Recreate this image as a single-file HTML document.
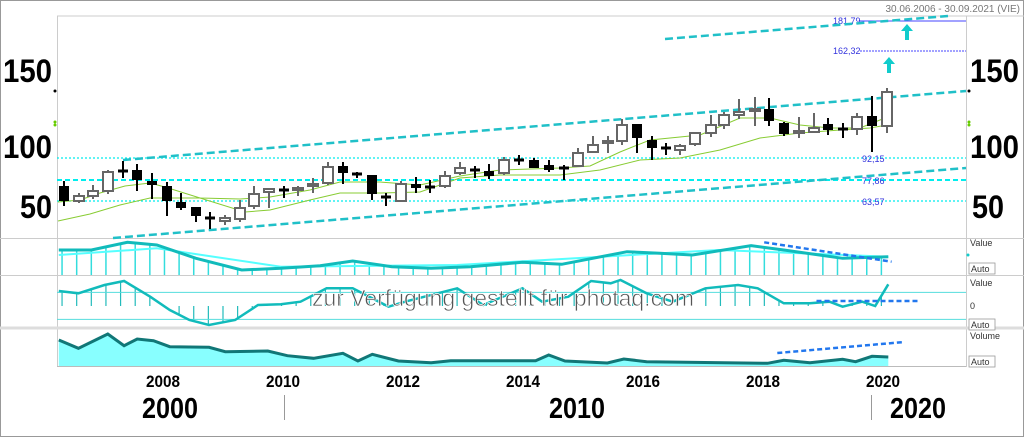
<!DOCTYPE html><html><head><meta charset="utf-8"><style>
body{margin:0;width:1024px;height:437px;background:#fff;overflow:hidden;font-family:"Liberation Sans",sans-serif}
svg{position:absolute;left:0;top:0}
</style></head><body>
<svg width="1024" height="437" id="s">
<rect x="0.5" y="0.5" width="1023" height="436" fill="none" stroke="#999"/>
<line x1="57" y1="16" x2="1024" y2="16" stroke="#ccc"/>
<line x1="57.5" y1="16" x2="57.5" y2="367" stroke="#ccc"/>
<line x1="966.5" y1="16" x2="966.5" y2="367" stroke="#ccc"/>
<line x1="0" y1="238.5" x2="1024" y2="238.5" stroke="#ccc"/>
<line x1="0" y1="275.5" x2="1024" y2="275.5" stroke="#ccc"/>
<line x1="0" y1="328" x2="1024" y2="328" stroke="#ddd" stroke-width="3"/>
<line x1="57" y1="366.5" x2="966" y2="366.5" stroke="#bbb"/>
<text x="1020" y="12" font-size="10" fill="#777" text-anchor="end">30.06.2006 - 30.09.2021 (VIE)</text>
<g font-weight="bold" font-size="32" fill="#000" lengthAdjust="spacingAndGlyphs">
<text x="3" y="82" textLength="49" lengthAdjust="spacingAndGlyphs">150</text><text x="3" y="158" textLength="49" lengthAdjust="spacingAndGlyphs">100</text><text x="20" y="218" textLength="32" lengthAdjust="spacingAndGlyphs">50</text>
<text x="970" y="82" textLength="49" lengthAdjust="spacingAndGlyphs">150</text><text x="970" y="158" textLength="49" lengthAdjust="spacingAndGlyphs">100</text><text x="972" y="218" textLength="32" lengthAdjust="spacingAndGlyphs">50</text>
</g>
<circle cx="55" cy="91" r="1.5"/><circle cx="969" cy="91" r="1.5"/>
<circle cx="55" cy="122" r="1.5" fill="#6c0"/><circle cx="55" cy="125" r="1.5" fill="#6c0"/>
<circle cx="969" cy="122" r="1.5" fill="#6c0"/><circle cx="969" cy="125" r="1.5" fill="#6c0"/>
<g stroke="#0ee" stroke-width="1.3" stroke-dasharray="2 2">
<line x1="57" y1="158" x2="966" y2="158"/><line x1="57" y1="201" x2="966" y2="201"/>
</g>
<line x1="57" y1="180" x2="966" y2="180" stroke="#0ee" stroke-width="2" stroke-dasharray="5 3"/>
<line x1="860" y1="21" x2="966" y2="21" stroke="#44f"/>
<line x1="860" y1="51" x2="966" y2="51" stroke="#44f" stroke-dasharray="2 1"/>
<g font-size="9" fill="#33d">
<text x="833" y="24">181,79</text><text x="833" y="54">162,32</text>
<text x="862" y="162">92,15</text><text x="862" y="184">77,86</text><text x="862" y="205">63,57</text>
</g>
<g stroke="#20c0c8" stroke-width="2.5" stroke-dasharray="8 4">
<line x1="123" y1="160" x2="966" y2="91"/>
<line x1="113" y1="238" x2="966" y2="168"/>
<line x1="665" y1="39" x2="948" y2="16"/>
</g>
<g fill="#1cc">
<path d="M905,40v-9h-4l6,-7l6,7h-4v9z"/>
<path d="M887,73v-9h-4l6,-7l6,7h-4v9z"/>
</g>
<g id="ma" fill="none" stroke="#8c3" stroke-width="1"></g>
<g id="c"></g>
<g id="p" fill="none"></g>
<g font-size="9" fill="#333">
<text x="970" y="246">Value</text><text x="970" y="286">Value</text><text x="970" y="309">0</text><text x="970" y="339">Volume</text>
</g>
<g font-size="9" fill="#333" stroke="#999" stroke-width="0.8">
<rect x="969" y="263" width="26" height="11" fill="#fff"/><rect x="969" y="319" width="26" height="11" fill="#fff"/><rect x="969" y="356" width="26" height="11" fill="#fff"/>
</g>
<g font-size="9" fill="#333"><text x="971" y="272">Auto</text><text x="971" y="328">Auto</text><text x="971" y="365">Auto</text></g>
<circle cx="968" cy="255" r="1.5" fill="#1cc"/>
<text x="312" y="306" font-size="23" fill="#555" stroke="#fff" stroke-width="0.7" textLength="382" lengthAdjust="spacingAndGlyphs">zur Verfügung gestellt für photaq.com</text>
<g font-weight="bold" font-size="17" text-anchor="middle">
<text x="163" y="387" textLength="34" lengthAdjust="spacingAndGlyphs">2008</text><text x="283" y="387" textLength="34" lengthAdjust="spacingAndGlyphs">2010</text><text x="403" y="387" textLength="34" lengthAdjust="spacingAndGlyphs">2012</text><text x="523" y="387" textLength="34" lengthAdjust="spacingAndGlyphs">2014</text><text x="643" y="387" textLength="34" lengthAdjust="spacingAndGlyphs">2016</text><text x="763" y="387" textLength="34" lengthAdjust="spacingAndGlyphs">2018</text><text x="883" y="387" textLength="34" lengthAdjust="spacingAndGlyphs">2020</text>
</g>
<g font-weight="bold" font-size="29" text-anchor="middle">
<text x="170" y="418" textLength="56" lengthAdjust="spacingAndGlyphs">2000</text><text x="577" y="418" textLength="56" lengthAdjust="spacingAndGlyphs">2010</text><text x="918" y="418" textLength="56" lengthAdjust="spacingAndGlyphs">2020</text>
</g>
<line x1="284.5" y1="395" x2="284.5" y2="420" stroke="#999"/>
<line x1="871.5" y1="395" x2="871.5" y2="420" stroke="#999"/>
</svg>
<script>
var NS="http://www.w3.org/2000/svg";
function el(p,t,a){var e=document.createElementNS(NS,t);for(var k in a)e.setAttribute(k,a[k]);p.appendChild(e);return e;}
var c=document.getElementById('c');
var C=[[64,186,201,181,206,'b'],[79,196,201,193,203,'g'],[93,191,196,185,199,'g'],[108,172,191,170,194,'h'],[123,170,172,161,178,'x'],[137,170,180,164,191,'b'],[152,181,185,173,199,'b'],[167,186,201,182,216,'b'],[181,202,208,193,210,'b'],[196,207,216,207,222,'b'],[210,217,219,212,229,'x'],[225,218,221,215,225,'g'],[240,208,219,200,222,'h'],[254,194,206,186,209,'h'],[269,189,192,189,208,'g'],[284,189,191,186,198,'x'],[298,188,190,186,196,'g'],[313,184,186,178,193,'g'],[328,167,183,162,185,'h'],[343,166,173,162,184,'b'],[357,173,175,172,178,'x'],[372,175,194,175,200,'b'],[386,196,198,193,206,'x'],[401,184,201,181,201,'h'],[416,184,188,177,193,'b'],[430,186,188,180,193,'x'],[445,176,186,171,188,'h'],[460,168,173,162,175,'g'],[475,169,171,166,178,'x'],[489,171,176,164,179,'b'],[504,160,173,157,175,'h'],[519,159,161,155,165,'x'],[534,160,168,158,168,'b'],[549,165,170,160,172,'b'],[564,167,169,165,180,'x'],[578,153,166,148,167,'h'],[593,145,152,136,153,'h'],[608,141,143,136,153,'g'],[622,125,141,119,145,'h'],[637,124,138,124,153,'b'],[652,140,148,136,160,'b'],[666,147,149,143,155,'x'],[680,146,150,144,155,'g'],[695,133,144,132,146,'h'],[711,125,133,115,137,'h'],[724,115,125,112,129,'h'],[739,112,115,99,119,'g'],[755,109,111,97,126,'g'],[769,109,121,98,126,'b'],[784,123,134,122,136,'b'],[799,131,133,117,138,'g'],[814,128,132,113,133,'g'],[828,124,130,118,135,'b'],[843,128,130,123,138,'x'],[857,117,129,113,135,'h'],[872,116,126,96,152,'b'],[887,92,126,88,133,'h']];
C.forEach(function(d){var x=d[0],t=d[5];var col=(t=='g'||t=='h')?'#666':'#000';
el(c,'line',{x1:x,y1:d[3],x2:x,y2:d[4],stroke:col,'stroke-width':2});
if(t=='x'){el(c,'line',{x1:x-5,y1:(d[1]+d[2])/2,x2:x+5,y2:(d[1]+d[2])/2,stroke:'#000','stroke-width':3});}
else el(c,'rect',{x:x-5,y:d[1],width:10,height:Math.max(2,d[2]-d[1]),fill:t=='b'?'#000':'#fff',stroke:col,'stroke-width':t=='b'?0:2});});
var ma=document.getElementById('ma');
el(ma,'polyline',{points:"58,202 80,200 100,193 125,186 150,183 165,187 200,198 240,199 270,197 310,190 340,182 380,182 420,185 460,176 500,170 560,168 590,166 620,152 650,140 700,135 740,118 770,118 800,125 830,128 860,128 885,118"});
el(ma,'polyline',{points:"58,221 90,214 120,205 150,198 200,198 245,212 270,210 310,200 340,193 380,193 420,192 460,178 500,175 560,175 600,170 640,160 680,158 720,150 760,138 800,133 840,130 870,128 887,125"});
var p=document.getElementById('p');
function tr(pts){return pts.map(function(q){return (q[0]/1.531).toFixed(1)+','+(235+q[1]/3).toFixed(1)});}
function interp(pts,x){for(var i=1;i<pts.length;i++){if(pts[i][0]>=x){var a=pts[i-1],b=pts[i];return a[1]+(b[1]-a[1])*(x-a[0])/(b[0]-a[0]);}}return pts[pts.length-1][1];}
var L2=[[90,45],[140,45],[195,22],[240,30],[300,70],[370,105],[430,100],[490,92],[540,78],[600,95],[660,100],[720,95],[800,82],[860,88],[960,50],[1010,55],[1060,60],[1150,32],[1200,45],[1290,70],[1360,65]];
var L2b=[[90,60],[240,40],[430,95],[700,90],[1100,45],[1360,65]];
var L3=[[90,168],[120,175],[160,150],[190,138],[230,185],[260,225],[290,255],[320,270],[360,255],[395,210],[430,208],[460,200],[500,160],[540,160],[595,215],[620,200],[700,160],[740,210],[800,160],[830,200],[870,185],[905,138],[935,145],[950,135],[990,175],[1030,200],[1080,160],[1130,150],[1160,160],[1200,205],[1240,205],[1270,200],[1290,215],[1320,200],[1340,213],[1360,148]];
var V=[[90,315],[120,340],[165,297],[190,332],[210,312],[235,317],[260,335],[320,337],[345,350],[410,348],[440,362],[480,370],[525,355],[548,378],[570,358],[610,378],[660,383],[690,377],[820,377],[840,360],[865,378],[930,384],[955,372],[990,380],[1175,385],[1200,376],[1240,383],[1290,373],[1310,380],[1335,364],[1360,366]];
for(var X=95;X<=1360;X+=22.4){var y=interp(L2,X);el(p,'line',{x1:X/1.531,y1:235+y/3,x2:X/1.531,y2:275,stroke:'#3dd','stroke-width':1.5});
var y3=interp(L3,X);el(p,'line',{x1:X/1.531,y1:235+y3/3,x2:X/1.531,y2:235+213/3,stroke:'#2bb','stroke-width':1.2});}
el(p,'polyline',{points:tr(L2b).join(' '),stroke:'#5ff','stroke-width':2});
el(p,'polyline',{points:tr(L2).join(' '),stroke:'#1bb','stroke-width':3});
el(p,'line',{x1:57,y1:235+172/3,x2:966,y2:235+172/3,stroke:'#5dd'});
el(p,'line',{x1:57,y1:235+253/3,x2:966,y2:235+253/3,stroke:'#5dd'});
el(p,'polyline',{points:tr(L3).join(' '),stroke:'#1bb','stroke-width':2.5});
el(p,'polygon',{points:(tr(V).join(' '))+' '+(1360/1.531).toFixed(1)+','+(235+393/3)+' '+(90/1.531).toFixed(1)+','+(235+393/3),fill:'#8ff',stroke:'none'});
el(p,'polyline',{points:tr(V).join(' '),stroke:'#177','stroke-width':3});
el(p,'polyline',{points:tr([[1170,22],[1365,80]]).join(' '),stroke:'#27e','stroke-width':2.5,'stroke-dasharray':'5 3'});
el(p,'polyline',{points:tr([[1250,198],[1405,198]]).join(' '),stroke:'#27e','stroke-width':2.5,'stroke-dasharray':'5 3'});
el(p,'polyline',{points:tr([[1190,354],[1385,321]]).join(' '),stroke:'#27e','stroke-width':2.5,'stroke-dasharray':'5 3'});
</script>
</body></html>
